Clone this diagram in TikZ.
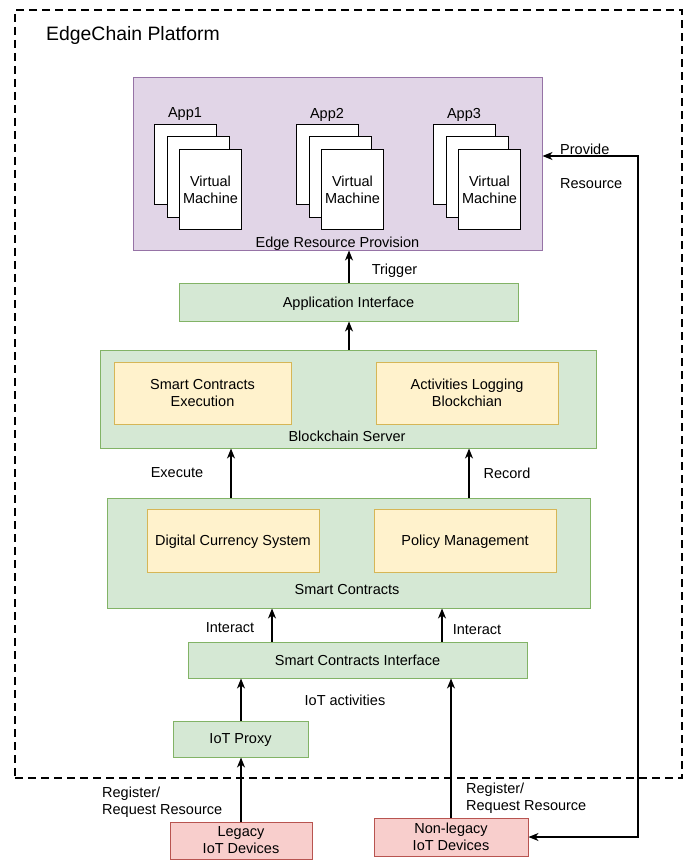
\documentclass[tikz,border=0pt]{standalone}
\usepackage{fontspec}
\setmainfont{Liberation Sans}
\usetikzlibrary{arrows.meta}
\definecolor{pfill}{HTML}{E1D5E7}
\definecolor{pline}{HTML}{9673A6}
\definecolor{gfill}{HTML}{D5E8D4}
\definecolor{gline}{HTML}{82B366}
\definecolor{yfill}{HTML}{FFF2CC}
\definecolor{yline}{HTML}{D6B656}
\definecolor{rfill}{HTML}{F8CECC}
\definecolor{rline}{HTML}{B85450}
\begin{document}
\begin{tikzpicture}[x=1pt,y=-1pt,
  font=\fontsize{14.5}{17}\selectfont,
  bx/.style={draw, line width=1pt, inner sep=0pt, align=center},
  sl/.style={text depth=0pt},
  pbox/.style={bx, fill=pfill, draw=pline},
  gbox/.style={bx, fill=gfill, draw=gline},
  ybox/.style={bx, fill=yfill, draw=yline},
  rbox/.style={bx, fill=rfill, draw=rline},
  page/.style={bx, fill=white, draw=black, minimum width=62pt, minimum height=80pt},
  lbl/.style={inner sep=0pt, align=center},
  arr/.style={line width=1.1pt, -{Stealth[length=10pt,width=8pt,inset=3pt]}},
  arrboth/.style={line width=1.1pt, {Stealth[length=10pt,width=8pt,inset=3pt]}-{Stealth[length=10pt,width=8pt,inset=3pt]}},
  platform/.style={draw, line width=2pt, dash pattern=on 8pt off 5pt, inner sep=0pt}
]
\useasboundingbox (0,0) rectangle (697,861);
\fill[white] (0,0) rectangle (697,861);

% outer platform
\node[platform, minimum width=667pt, minimum height=768pt] (plat) at (348.5,394) {};
\node[lbl, anchor=base west, font=\fontsize{19.4}{22}\selectfont] (title) at (46,41) {EdgeChain Platform};

% edge resource provision
\node[pbox, minimum width=409pt, minimum height=172pt] (ed) at (337.5,164) {};
\node[lbl, sl] (edl) at (337.5,242) {Edge Resource Provision};

% app stacks
\foreach \n/\x in {1/154,2/296,3/433}{
  \node[page, anchor=north west] (a\n p1) at (\x,124) {};
  \node[page, anchor=north west] (a\n p2) at (\x+12.5,136.5) {};
  \node[page, anchor=north west] (a\n p3) at (\x+25,149) {Virtual\\Machine};
  \node[lbl, sl] (a\n l) at (\x+31,113) {App\n};
}

\node[lbl, anchor=west, align=left, font=\fontsize{14.5}{34}\selectfont] (prov) at (560,166) {Provide\\Resource};

% application interface
\node[lbl, sl] (trig) at (394.5,269) {Trigger};
\node[gbox, sl, minimum width=339pt, minimum height=38pt] (ai) at (348.5,302) {Application Interface};

% blockchain server
\node[gbox, minimum width=496pt, minimum height=98pt] (bs) at (348,399) {};
\node[ybox, minimum width=177pt, minimum height=62pt] (sce) at (202.5,393) {Smart Contracts\\Execution};
\node[ybox, minimum width=182pt, minimum height=62pt] (alb) at (467,393) {Activities Logging\\Blockchian};
\node[lbl, sl] (bsl) at (347,436) {Blockchain Server};

\node[lbl, sl] (exe) at (177,473) {Execute};
\node[lbl, sl] (rec) at (507,473) {Record};

% smart contracts
\node[gbox, minimum width=483pt, minimum height=110pt] (sc) at (348.5,553) {};
\node[ybox, sl, minimum width=172pt, minimum height=63pt] (dcs) at (233,540.5) {Digital Currency System};
\node[ybox, sl, minimum width=182pt, minimum height=63pt] (pm) at (465,540.5) {Policy Management};
\node[lbl, sl] (scl) at (347,589) {Smart Contracts};

\node[lbl, sl] (int1) at (230,628) {Interact};
\node[lbl, sl] (int2) at (477,630) {Interact};

% smart contracts interface
\node[gbox, sl, minimum width=339pt, minimum height=36pt] (sci) at (357.5,660) {Smart Contracts Interface};
\node[lbl, sl] (iota) at (345,700) {IoT activities};

\node[gbox, sl, minimum width=135pt, minimum height=36pt] (proxy) at (240.5,739) {IoT Proxy};

% devices
\node[rbox, minimum width=142pt, minimum height=37pt] (leg) at (241,840.5) {Legacy\\IoT Devices};
\node[rbox, minimum width=154pt, minimum height=38pt] (nl) at (451,837) {Non-legacy\\IoT Devices};
\node[lbl, anchor=west, align=left] (reg1) at (102,802.5) {Register/\\Request Resource};
\node[lbl, anchor=west, align=left] (reg2) at (466,798) {Register/\\Request Resource};

% helper x positions
\coordinate (xa) at (349,0);
\coordinate (xe) at (231,0);
\coordinate (xr) at (469,0);
\coordinate (xi1) at (272,0);
\coordinate (xi2) at (442,0);
\coordinate (xp) at (241,0);
\coordinate (xn) at (451,0);
\coordinate (rc) at (638,156);

% connectors
\draw[arr] (ai.north -| xa) -- (ed.south -| xa);
\draw[arr] (bs.north -| xa) -- (ai.south -| xa);
\draw[arr] (sc.north -| xe) -- (bs.south -| xe);
\draw[arr] (sc.north -| xr) -- (bs.south -| xr);
\draw[arr] (sci.north -| xi1) -- (sc.south -| xi1);
\draw[arr] (sci.north -| xi2) -- (sc.south -| xi2);
\draw[arr] (proxy.north -| xp) -- (sci.south -| xp);
\draw[arr] (leg.north -| xp) -- (proxy.south -| xp);
\draw[arr] (nl.north -| xn) -- (sci.south -| xn);
\draw[arrboth] (nl.east) -| (rc) -- (ed.east |- rc);
\end{tikzpicture}
\end{document}
